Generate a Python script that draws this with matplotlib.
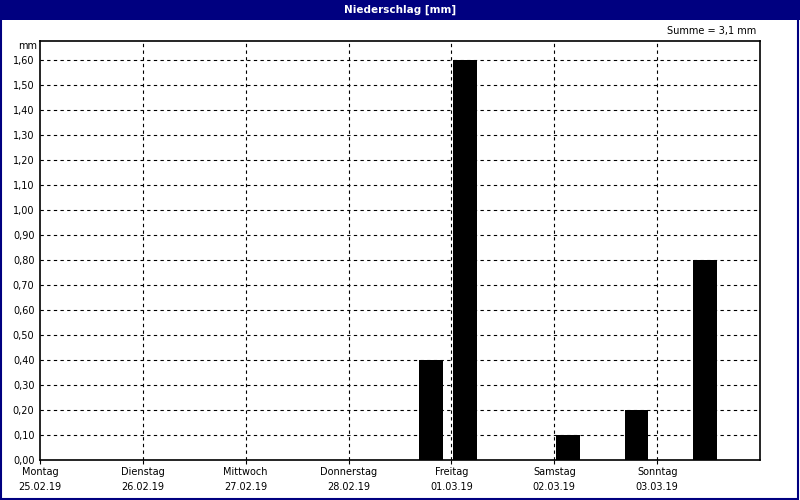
import numpy as np
import matplotlib.pyplot as plt
from matplotlib.patches import Rectangle

# 8-hour precipitation sums, start of interval in hours since Monday 00:00
start_hours = [88, 96, 120, 136, 152]
precip_mm = [0.4, 1.6, 0.1, 0.2, 0.8]
day_names = ["Montag", "Dienstag", "Mittwoch", "Donnerstag", "Freitag", "Samstag", "Sonntag"]
day_dates = ["25.02.19", "26.02.19", "27.02.19", "28.02.19", "01.03.19", "02.03.19", "03.03.19"]
y_ticks = np.arange(0, 1.61, 0.1)

plt.rcParams['font.family'] = ['DejaVu Sans']
navy = '#000080'

fig = plt.figure(figsize=(8, 5), dpi=100, facecolor='white')
ax = fig.add_axes([0.05, 0.08, 0.90, 0.839])

x = np.array(start_hours) / 24.0 + 0.018
ax.bar(x, precip_mm, width=0.23, align='edge', color='#000000', zorder=3)

ax.set_xlim(0, 7)
ax.set_ylim(0, 1.68)

# dashed grid
for yv in y_ticks[1:]:
    ax.axhline(yv, color='black', lw=0.8, ls=(0, (3, 3)), zorder=1)
for d in range(1, 7):
    ax.axvline(d, color='black', lw=0.8, ls=(0, (3, 3)), zorder=1)

ax.set_yticks(y_ticks)
ax.set_yticklabels([f"{v:.2f}".replace('.', ',') for v in y_ticks], fontsize=7)
ax.tick_params(axis='y', length=0, pad=4)
ax.set_xticks(range(7))
ax.set_xticklabels([f"{n}\n{d}" for n, d in zip(day_names, day_dates)],
                   fontsize=7, linespacing=1.6)
ax.tick_params(axis='x', length=3, pad=2, direction='out')
for s in ax.spines.values():
    s.set_linewidth(1.2)

fig.text(0.046, 0.908, "mm", ha='right', va='center', fontsize=7)
fig.text(0.945, 0.938, "Summe = 3,1 mm", ha='right', va='center', fontsize=7)

# title bar and frame
fig.patches.append(Rectangle((0, 0.96), 1, 0.04, transform=fig.transFigure,
                             facecolor=navy, edgecolor='none', zorder=0))
fig.patches.append(Rectangle((0.001, 0.003), 0.997, 0.996, transform=fig.transFigure,
                             facecolor='none', edgecolor=navy, lw=1.5, zorder=5))
fig.text(0.5, 0.981, "Niederschlag [mm]", color='white', fontsize=7.5,
         fontweight='bold', ha='center', va='center')

fig.savefig("out.png", dpi=100)
